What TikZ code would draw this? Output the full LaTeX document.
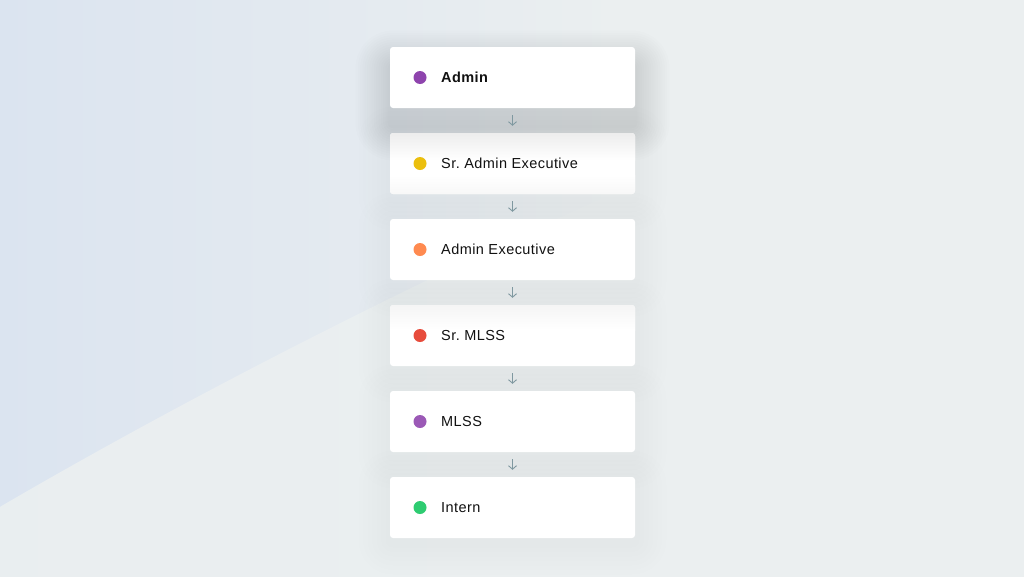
\documentclass[tikz,border=0pt]{standalone}
\usepackage{fontspec}
\setmainfont{Liberation Sans}[LetterSpace=3]
\frenchspacing
\usetikzlibrary{arrows.meta,shadings}
\definecolor{bg}{HTML}{EBEFF0}
\definecolor{bluebg}{HTML}{DBE4F0}
\definecolor{arrc}{HTML}{7F98A0}
\definecolor{cpurple}{HTML}{8E44AD}
\definecolor{cyellow}{HTML}{EBBF0E}
\definecolor{corange}{HTML}{FF8A50}
\definecolor{cred}{HTML}{E74C3C}
\definecolor{cviolet}{HTML}{9B59B6}
\definecolor{cgreen}{HTML}{2ECC71}
\definecolor{txt}{HTML}{111111}
\tikzset{
  card/.style={rectangle, rounded corners=3pt, fill=white, minimum width=245pt, minimum height=61pt, inner sep=0pt},
  dot/.style={circle, minimum size=13pt, inner sep=0pt},
  lbl/.style={anchor=base west, inner sep=0pt, font=\fontsize{14.5}{16}\selectfont, text=txt},
  arr/.style={draw=arrc, line width=0.9pt, -{Straight Barb[length=3.5pt,width=8pt]}, shorten <=7pt, shorten >=7pt},
  shadowlayer/.style={fill=black}
}
\newcommand\mkshadow[6]{%
  \foreach \k in {1,...,#4}{%
    \pgfmathsetmacro\rr{3+#6*\k}%
    \fill[shadowlayer, opacity=#5, rounded corners=\rr pt]
      ({#1-122.5-#6*\k},{#2-30.5-#6*\k+#3}) rectangle ({#1+122.5+#6*\k},{#2+30.5+#6*\k+#3});
  }}
\begin{document}
\begin{tikzpicture}[x=1pt,y=-1pt]
\useasboundingbox (0,0) rectangle (1024,576);
\fill[bg] (-2,-2) rectangle (1026,580);
\shade[left color=bluebg, right color=bg] (-2,-2) rectangle (620,580);
\shade[left color=bg!90!bluebg, right color=bg] (-2,508) .. controls (200,390) and (420,280) .. (620,190) -- (620,580) -- (-2,580) -- cycle;

\mkshadow{512.5}{77.5}{18}{15}{0.008}{2.3}
\mkshadow{512.5}{163.5}{5}{7}{0.004}{4.5}
\mkshadow{512.5}{249.5}{5}{7}{0.004}{4.5}
\mkshadow{512.5}{335.5}{5}{7}{0.004}{4.5}
\mkshadow{512.5}{421.5}{5}{7}{0.004}{4.5}
\mkshadow{512.5}{507.5}{5}{7}{0.004}{4.5}

\node[card] (b1) at (512.5,77.5) {};
\node[card] (b2) at (512.5,163.5) {};
\node[card] (b3) at (512.5,249.5) {};
\node[card] (b4) at (512.5,335.5) {};
\node[card] (b5) at (512.5,421.5) {};
\node[card] (b6) at (512.5,507.5) {};

\begin{scope}
\clip[rounded corners=3pt] (390,133) rectangle (635,194);
\shade[top color=black!7, bottom color=white] (390,133) rectangle (635,160);
\shade[bottom color=black!3, top color=white] (390,175) rectangle (635,194);
\end{scope}
\begin{scope}
\clip[rounded corners=3pt] (390,305) rectangle (635,366);
\shade[top color=black!4, bottom color=white] (390,305) rectangle (635,330);
\end{scope}

\node[dot, fill=cpurple] (d1) at (420,77.5) {};
\node[dot, fill=cyellow] (d2) at (420,163.5) {};
\node[dot, fill=corange] (d3) at (420,249.5) {};
\node[dot, fill=cred] (d4) at (420,335.5) {};
\node[dot, fill=cviolet] (d5) at (420,421.5) {};
\node[dot, fill=cgreen] (d6) at (420,507.5) {};

\node[lbl, font=\fontsize{14.5}{16}\selectfont\bfseries] (t1) at (441,82.8) {Admin};
\node[lbl] (t2) at (441,168.8) {Sr. Admin Executive};
\node[lbl] (t3) at (441,254.8) {Admin Executive};
\node[lbl] (t4) at (441,340.8) {Sr. MLSS};
\node[lbl] (t5) at (441,426.8) {MLSS};
\node[lbl] (t6) at (441,512.8) {Intern};

\draw[arr] (b1.south) -- (b2.north);
\draw[arr] (b2.south) -- (b3.north);
\draw[arr] (b3.south) -- (b4.north);
\draw[arr] (b4.south) -- (b5.north);
\draw[arr] (b5.south) -- (b6.north);
\end{tikzpicture}
\end{document}
